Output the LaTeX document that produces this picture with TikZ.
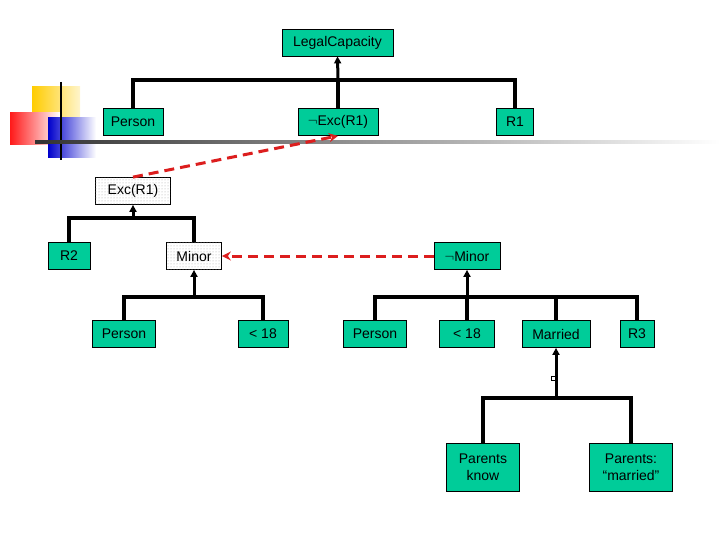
\documentclass[tikz,border=0pt]{standalone}
\usepackage{fontspec}
\setmainfont{Liberation Sans}
\usetikzlibrary{patterns,arrows.meta}
\definecolor{nodegreen}{RGB}{0,204,153}
\definecolor{dashred}{RGB}{220,30,30}
\definecolor{gold}{RGB}{255,204,0}
\begin{document}
\begin{tikzpicture}[x=1pt,y=-1pt,
  box/.style={draw=black,line width=0.8pt,fill=nodegreen,minimum height=27pt,inner sep=2pt,font=\fontsize{14}{17}\selectfont,align=center},
  dotbox/.style={box,fill=white,postaction={pattern=dots,pattern color=gray!70}},
  bus/.style={line width=4pt},
  up/.style={line width=3pt,-{Triangle[length=7pt,width=7pt]}},
  red/.style={dashred,line width=3pt,dash pattern=on 10pt off 6pt,-{Stealth[length=9pt,width=9pt]}}]
\useasboundingbox (0,0) rectangle (720,540);
% decoration
\shade[left color=gold,right color=gold!20] (32,87) rectangle (80,117);
\shade[left color=red!90,right color=white] (10,113) rectangle (60,145);
\shade[left color=blue!80!black,right color=white] (48,118) rectangle (96,158);
\draw[line width=2.2pt] (61,82) -- (61,160);
\shade[left color=black!80,right color=white] (35,140.5) rectangle (720,144);
% nodes
\node[box,minimum width=111pt] (lc) at (337.5,42.5) {LegalCapacity};
\node[box,minimum width=60pt] (p1) at (133,122) {Person};
\node[box,minimum width=80pt] (nexc) at (338,122) {$\neg$Exc(R1)};
\node[box,minimum width=37pt] (r1) at (515,122) {R1};
\node[dotbox,minimum width=75pt] (exc) at (133,191) {Exc(R1)};
\node[box,minimum width=42pt] (r2) at (69,256) {R2};
\node[dotbox,minimum width=55pt] (minor) at (194,256) {Minor};
\node[box,minimum width=66pt] (nminor) at (467,256) {$\neg$Minor};
\node[box,minimum width=63pt] (p2) at (124,334) {Person};
\node[box,minimum width=50pt] (l1) at (263,334) {< 18};
\node[box,minimum width=63pt] (p3) at (375,334) {Person};
\node[box,minimum width=55pt] (l2) at (467,334) {< 18};
\node[box,minimum width=68pt] (mar) at (556,334) {Married};
\node[box,minimum width=34pt] (r3) at (637,334) {R3};
\node[box,minimum width=73pt,minimum height=48pt] (pk) at (483,467) {Parents\\know};
\node[box,minimum width=83pt,minimum height=48pt] (pm) at (631,467) {Parents:\\“married”};
% buses
\coordinate (b1) at (338,80);
\draw[bus] (p1.north) |- (b1) -| (r1.north);
\draw[bus] (nexc.north) -- (b1);
\draw[up] (b1) -- (lc.south);
\coordinate (b2) at (133,218);
\draw[bus] (r2.north) |- (b2) -| (minor.north);
\draw[up] (b2) -- (exc.south);
\coordinate (b3) at (194,297);
\draw[bus] (p2.north) |- (b3) -| (l1.north);
\draw[up] (b3) -- (minor.south);
\coordinate (b4) at (467,297);
\draw[bus] (p3.north) |- (b4) -| (r3.north);
\draw[bus] (l2.north) -- (b4);
\draw[bus] (mar.north) -- (mar.north |- b4);
\draw[up] (b4) -- (nminor.south);
\coordinate (b5) at (556,398);
\draw[bus] (pk.north) |- (b5) -| (pm.north);
\draw[up] (b5) -- (mar.south);
\draw[line width=0.6pt,fill=white] (551.5,376.5) rectangle (555,380);
% red dashed
\draw[red] (exc.north) -- (nexc.south);
\draw[red] (nminor.west) -- (minor.east);
\end{tikzpicture}
\end{document}
